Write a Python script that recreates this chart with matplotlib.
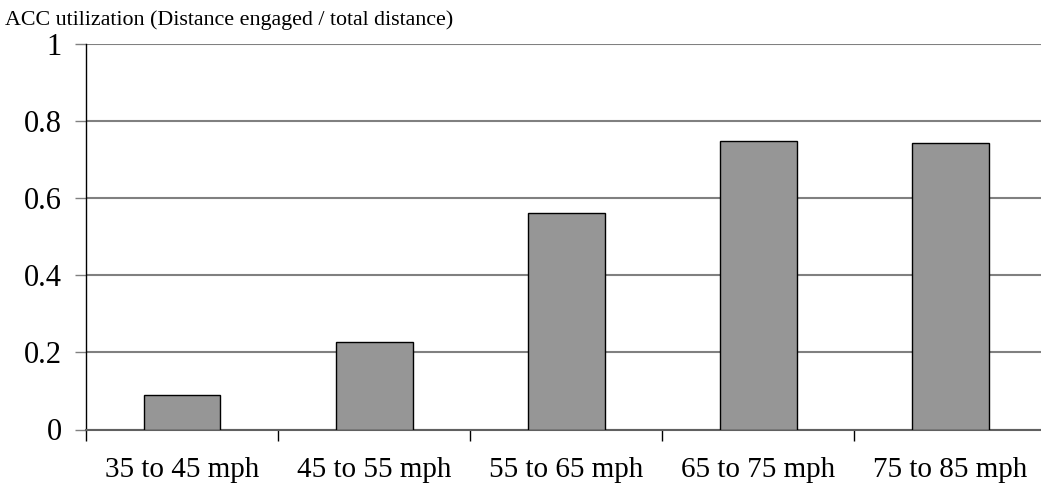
import matplotlib
matplotlib.use("Agg")
import matplotlib.pyplot as plt
import numpy as np

categories = ["35 to 45 mph", "45 to 55 mph", "55 to 65 mph", "65 to 75 mph", "75 to 85 mph"]
utilization = [0.090, 0.226, 0.561, 0.748, 0.742]
yticks = [0, 0.2, 0.4, 0.6, 0.8, 1]
ytick_labels = ["0", "0.2", "0.4", "0.6", "0.8", "1"]
title = "ACC utilization (Distance engaged / total distance)"

plt.rcParams['font.family'] = ['Liberation Serif', 'DejaVu Serif']

fig = plt.figure(figsize=(10.41, 4.88), dpi=100)
ax = fig.add_axes([86/1041, 58.5/488, 960.5/1041, 385.5/488])

x = np.arange(len(categories)) + 0.5
ax.bar(x, utilization, width=0.40, color="#969696", edgecolor="black", linewidth=1.0, zorder=3)

ax.set_xlim(0, len(categories))
ax.set_ylim(0, 1)
ax.set_yticks(yticks)
ax.set_yticklabels(ytick_labels, fontsize=22)
ax.yaxis.grid(True, color="#808080", linewidth=1.5, zorder=0)
ax.set_axisbelow(True)

ax.set_xticks(np.arange(len(categories) + 1))
ax.set_xticklabels([])
ax.set_xticks(x, minor=True)
ax.set_xticklabels(categories, minor=True, fontsize=21)
ax.tick_params(axis='x', which='major', length=8, width=1, color="black", direction='out')
ax.tick_params(axis='x', which='minor', length=0, pad=20)
ax.tick_params(axis='y', length=8, width=1, color="#808080", pad=9.4)

for s in ["top", "right"]:
    ax.spines[s].set_visible(False)
ax.spines["left"].set_color("black")
ax.spines["left"].set_linewidth(1.0)
ax.spines["bottom"].set_color("#606060")
ax.spines["bottom"].set_linewidth(1.5)

fig.text(5/1041, 1 - 20/488, title, fontsize=15.8, ha="left", va="center")

fig.savefig("out.png", dpi=100)
